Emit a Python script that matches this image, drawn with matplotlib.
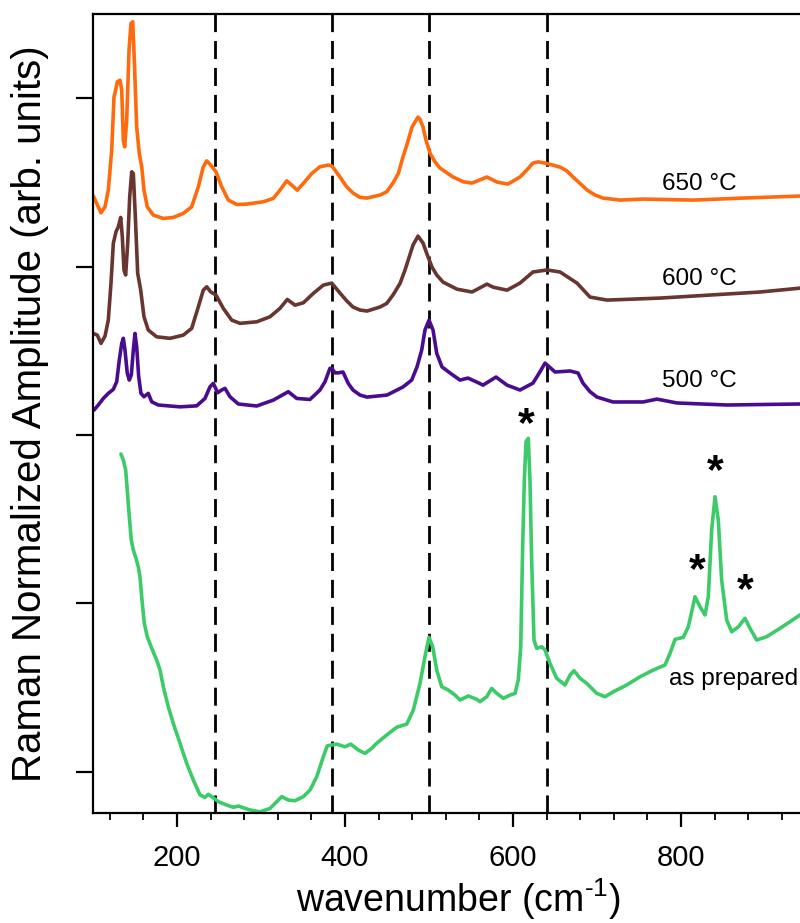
import matplotlib
matplotlib.use("Agg")
import matplotlib.pyplot as plt

plt.rcParams['font.family'] = ['Liberation Sans', 'DejaVu Sans']
plt.rcParams['mathtext.fontset'] = 'custom'
plt.rcParams['mathtext.rm'] = 'Liberation Sans'
plt.rcParams['mathtext.it'] = 'Liberation Sans:italic'

# 650 C anneal
wn_650 = [100.4, 109.5, 114.3, 118.2, 122.3, 125.0, 127.0, 128.9, 132.1, 134.2, 136.1,
          137.7, 140.1, 142.9, 145.2, 147.3, 149.2, 152.0, 155.1, 158.0, 160.7, 164.6,
          171.8, 183.7, 195.6, 207.5, 217.5, 225.4, 231.3, 235.4, 240.1, 246.4, 253.2,
          261.1, 271.1, 283.0, 302.7, 314.6, 322.6, 330.6, 336.5, 343.2, 350.4, 360.4,
          370.2, 380.1, 384.5, 394.0, 402.0, 409.5, 417.9, 426.2, 441.7, 449.6, 457.1,
          463.5, 469.0, 474.2, 479.8, 486.9, 489.3, 492.9, 496.4, 501.2, 507.1, 513.1,
          528.6, 540.8, 551.2, 569.0, 581.0, 594.0, 608.3, 616.3, 623.8, 630.1, 638.1,
          656.0, 663.9, 671.4, 679.8, 688.1, 697.6, 707.1, 727.4, 754.8, 814.3, 873.8,
          941.7, 1000]
amp_650 = [3.419, 3.319, 3.355, 3.454, 3.692, 4.008, 4.048, 4.097, 4.107, 4.048, 3.751,
           3.711, 3.870, 4.286, 4.444, 4.454, 4.226, 3.830, 3.672, 3.593, 3.454, 3.355,
           3.306, 3.286, 3.292, 3.316, 3.355, 3.474, 3.593, 3.628, 3.603, 3.563, 3.474,
           3.395, 3.369, 3.371, 3.385, 3.405, 3.454, 3.509, 3.484, 3.454, 3.494, 3.553,
           3.593, 3.603, 3.597, 3.532, 3.474, 3.437, 3.411, 3.407, 3.425, 3.444, 3.496,
           3.553, 3.651, 3.732, 3.829, 3.888, 3.874, 3.829, 3.751, 3.674, 3.622, 3.585,
           3.532, 3.504, 3.496, 3.532, 3.502, 3.490, 3.532, 3.573, 3.615, 3.622, 3.615,
           3.591, 3.569, 3.532, 3.494, 3.455, 3.425, 3.407, 3.395, 3.401, 3.395, 3.407,
           3.419, 3.43]

# 600 C anneal
wn_600 = [100.4, 105.1, 109.5, 114.3, 118.2, 121.4, 124.2, 127.4, 130.1, 133.0, 134.9,
          136.9, 138.9, 141.3, 143.7, 146.1, 148.0, 150.4, 153.2, 156.8, 160.7, 165.8,
          175.8, 191.7, 207.5, 217.5, 225.4, 231.3, 235.4, 240.1, 246.4, 255.1, 265.1,
          275.0, 294.9, 310.7, 322.6, 331.3, 340.5, 350.4, 362.3, 374.2, 384.2, 394.0,
          402.0, 409.5, 417.9, 426.2, 441.7, 449.6, 457.1, 465.5, 471.4, 481.0, 486.9,
          492.9, 497.3, 503.6, 509.2, 516.7, 533.3, 551.2, 569.0, 576.2, 592.9, 608.3,
          623.8, 640.5, 656.0, 676.2, 691.7, 711.9, 775.0, 834.5, 894.0, 941.7, 1000]
amp_600 = [2.603, 2.593, 2.544, 2.587, 2.682, 2.900, 3.138, 3.207, 3.236, 3.292, 3.177,
           2.979, 2.950, 3.138, 3.415, 3.563, 3.553, 3.296, 2.960, 2.860, 2.702, 2.623,
           2.583, 2.574, 2.593, 2.633, 2.761, 2.860, 2.880, 2.850, 2.831, 2.752, 2.682,
           2.663, 2.672, 2.702, 2.752, 2.805, 2.771, 2.785, 2.841, 2.890, 2.902, 2.843,
           2.797, 2.760, 2.742, 2.736, 2.760, 2.781, 2.831, 2.900, 2.979, 3.128, 3.181,
           3.140, 3.078, 2.997, 2.950, 2.908, 2.866, 2.849, 2.896, 2.878, 2.860, 2.902,
           2.968, 2.980, 2.968, 2.902, 2.819, 2.801, 2.813, 2.831, 2.849, 2.872, 2.89]

# 500 C anneal
wn_500 = [101.2, 106.3, 112.3, 118.2, 124.2, 128.2, 131.3, 134.2, 136.1, 138.1, 140.8,
          143.2, 145.6, 148.0, 150.0, 152.0, 154.4, 157.1, 160.7, 165.8, 169.9, 177.7,
          203.6, 223.5, 233.3, 239.3, 243.2, 248.5, 253.2, 257.1, 263.1, 273.0, 294.9,
          314.6, 332.5, 342.5, 358.3, 370.2, 376.2, 382.1, 384.2, 388.1, 392.0, 397.6,
          403.9, 409.5, 417.9, 426.2, 450.0, 469.0, 479.4, 485.7, 491.3, 495.2, 500.0,
          504.8, 509.2, 515.5, 525.0, 536.9, 546.4, 558.7, 564.3, 579.8, 592.9, 608.3,
          623.8, 632.1, 638.1, 650.0, 667.9, 677.4, 683.3, 691.7, 700.0, 719.0, 754.8,
          771.4, 795.2, 854.8, 941.7, 1000]
amp_500 = [2.148, 2.178, 2.217, 2.247, 2.271, 2.316, 2.445, 2.544, 2.574, 2.504, 2.366,
           2.326, 2.356, 2.504, 2.603, 2.524, 2.346, 2.247, 2.227, 2.247, 2.197, 2.178,
           2.167, 2.173, 2.217, 2.286, 2.306, 2.251, 2.267, 2.277, 2.227, 2.184, 2.172,
           2.207, 2.257, 2.217, 2.211, 2.267, 2.316, 2.396, 2.396, 2.369, 2.369, 2.374,
           2.306, 2.267, 2.237, 2.225, 2.237, 2.285, 2.326, 2.404, 2.504, 2.623, 2.682,
           2.623, 2.485, 2.404, 2.368, 2.326, 2.338, 2.310, 2.296, 2.344, 2.296, 2.267,
           2.308, 2.375, 2.427, 2.374, 2.380, 2.368, 2.308, 2.257, 2.225, 2.196, 2.196,
           2.213, 2.190, 2.178, 2.184, 2.185]

# as-prepared film
wn_prep = [133.3, 136.1, 138.9, 140.8, 143.2, 145.6, 148.0, 151.2, 153.9, 155.9, 158.7,
           161.1, 164.6, 169.9, 175.8, 179.8, 183.7, 189.6, 195.6, 203.6, 211.5, 219.4,
           227.4, 233.3, 237.3, 242.5, 249.2, 259.2, 267.1, 273.0, 286.9, 298.8, 310.7,
           318.7, 324.6, 332.5, 340.5, 350.4, 358.3, 366.3, 374.2, 378.9, 390.1, 400.0,
           406.8, 415.8, 423.8, 431.8, 437.7, 449.6, 461.5, 473.5, 481.3, 489.3, 495.2,
           500.0, 504.4, 509.2, 515.1, 523.0, 531.0, 536.9, 546.8, 556.8, 560.7, 568.7,
           574.6, 580.6, 588.5, 596.4, 602.4, 606.3, 609.2, 611.5, 613.5, 615.5, 618.2,
           620.2, 622.3, 625.0, 628.2, 634.2, 638.1, 644.0, 652.0, 661.9, 667.9, 672.6,
           679.8, 687.7, 699.6, 709.5, 719.4, 735.3, 751.2, 767.1, 781.0, 786.9, 792.9,
           802.7, 808.7, 816.7, 822.6, 828.6, 832.5, 836.5, 840.5, 844.4, 848.4, 854.4,
           860.4, 868.3, 876.2, 882.1, 890.1, 902.0, 918.0, 929.8, 941.7, 1000]
amp_prep = [1.887, 1.851, 1.792, 1.673, 1.514, 1.376, 1.317, 1.267, 1.217, 1.158, 1.000,
            0.881, 0.802, 0.733, 0.663, 0.604, 0.505, 0.386, 0.287, 0.169, 0.050, -0.049,
            -0.138, -0.152, -0.134, -0.152, -0.178, -0.198, -0.211, -0.204, -0.227, -0.238, -0.218,
            -0.178, -0.148, -0.168, -0.172, -0.148, -0.109, -0.030, 0.089, 0.154, 0.164, 0.148,
            0.164, 0.129, 0.109, 0.139, 0.169, 0.218, 0.264, 0.283, 0.366, 0.525, 0.683,
            0.798, 0.742, 0.604, 0.505, 0.485, 0.455, 0.426, 0.450, 0.430, 0.416, 0.445,
            0.495, 0.466, 0.436, 0.455, 0.465, 0.545, 0.742, 1.336, 1.732, 1.960, 1.980,
            1.732, 1.238, 0.782, 0.733, 0.742, 0.723, 0.644, 0.555, 0.515, 0.574, 0.600,
            0.555, 0.525, 0.466, 0.445, 0.475, 0.515, 0.564, 0.604, 0.634, 0.703, 0.786,
            0.798, 0.861, 1.039, 0.980, 0.931, 1.039, 1.435, 1.633, 1.495, 1.138, 0.901,
            0.831, 0.861, 0.911, 0.852, 0.782, 0.802, 0.852, 0.891, 0.931, 1.05]

ref_lines = [245, 385, 500, 640]
star_wn = [615.5, 819, 840.5, 876]
star_amp = [2.06, 1.19, 1.78, 1.07]

fig = plt.figure(figsize=(8, 9.23), dpi=100)
ax = fig.add_axes([0.11625, 0.1192, 0.945, 0.8656])

for x in ref_lines:
    ax.axvline(x, color='k', lw=2.0, dashes=(6.5, 3.2), zorder=1)

style = dict(lw=2.6, solid_joinstyle='round', solid_capstyle='round')
ax.plot(wn_650, amp_650, color='#ff6a0d', **style)
ax.plot(wn_600, amp_600, color='#683530', **style)
ax.plot(wn_500, amp_500, color='#4a0c8f', **style)
ax.plot(wn_prep, amp_prep, color='#3ccb68', **style)

ax.text(822, 3.49, '650 °C', fontsize=17.5, ha='center', va='center')
ax.text(822, 2.925, '600 °C', fontsize=17.5, ha='center', va='center')
ax.text(822, 2.32, '500 °C', fontsize=17.5, ha='center', va='center')
ax.text(862, 0.55, 'as prepared', fontsize=17.5, ha='center', va='center')
for x, y in zip(star_wn, star_amp):
    ax.text(x, y, '*', fontsize=31, ha='center', va='center', fontweight='bold')

ax.set_xlim(100, 1000)
ax.set_ylim(-0.245, 4.5)
ax.set_xticks([200, 400, 600, 800])
ax.set_xticks(range(120, 1000, 40), minor=True)
ax.set_yticks([0, 1, 2, 3, 4])
ax.set_yticklabels([])
ax.tick_params(axis='x', which='major', length=10, width=1.6, labelsize=21, pad=12)
ax.tick_params(axis='x', which='minor', length=5, width=1.3)
ax.tick_params(axis='y', which='major', length=12, width=1.6)
for side in ['left', 'bottom', 'top']:
    ax.spines[side].set_linewidth(1.6)
ax.spines['right'].set_visible(False)

ax.set_xlabel(r'wavenumber (cm$^{\text{-1}}$)', fontsize=27)
ax.xaxis.set_label_coords(0.483, -0.08)
ax.set_ylabel('Raman Normalized Amplitude (arb. units)', fontsize=29)
ax.yaxis.set_label_coords(-0.058, 0.5)

fig.savefig('out.png', dpi=100)
